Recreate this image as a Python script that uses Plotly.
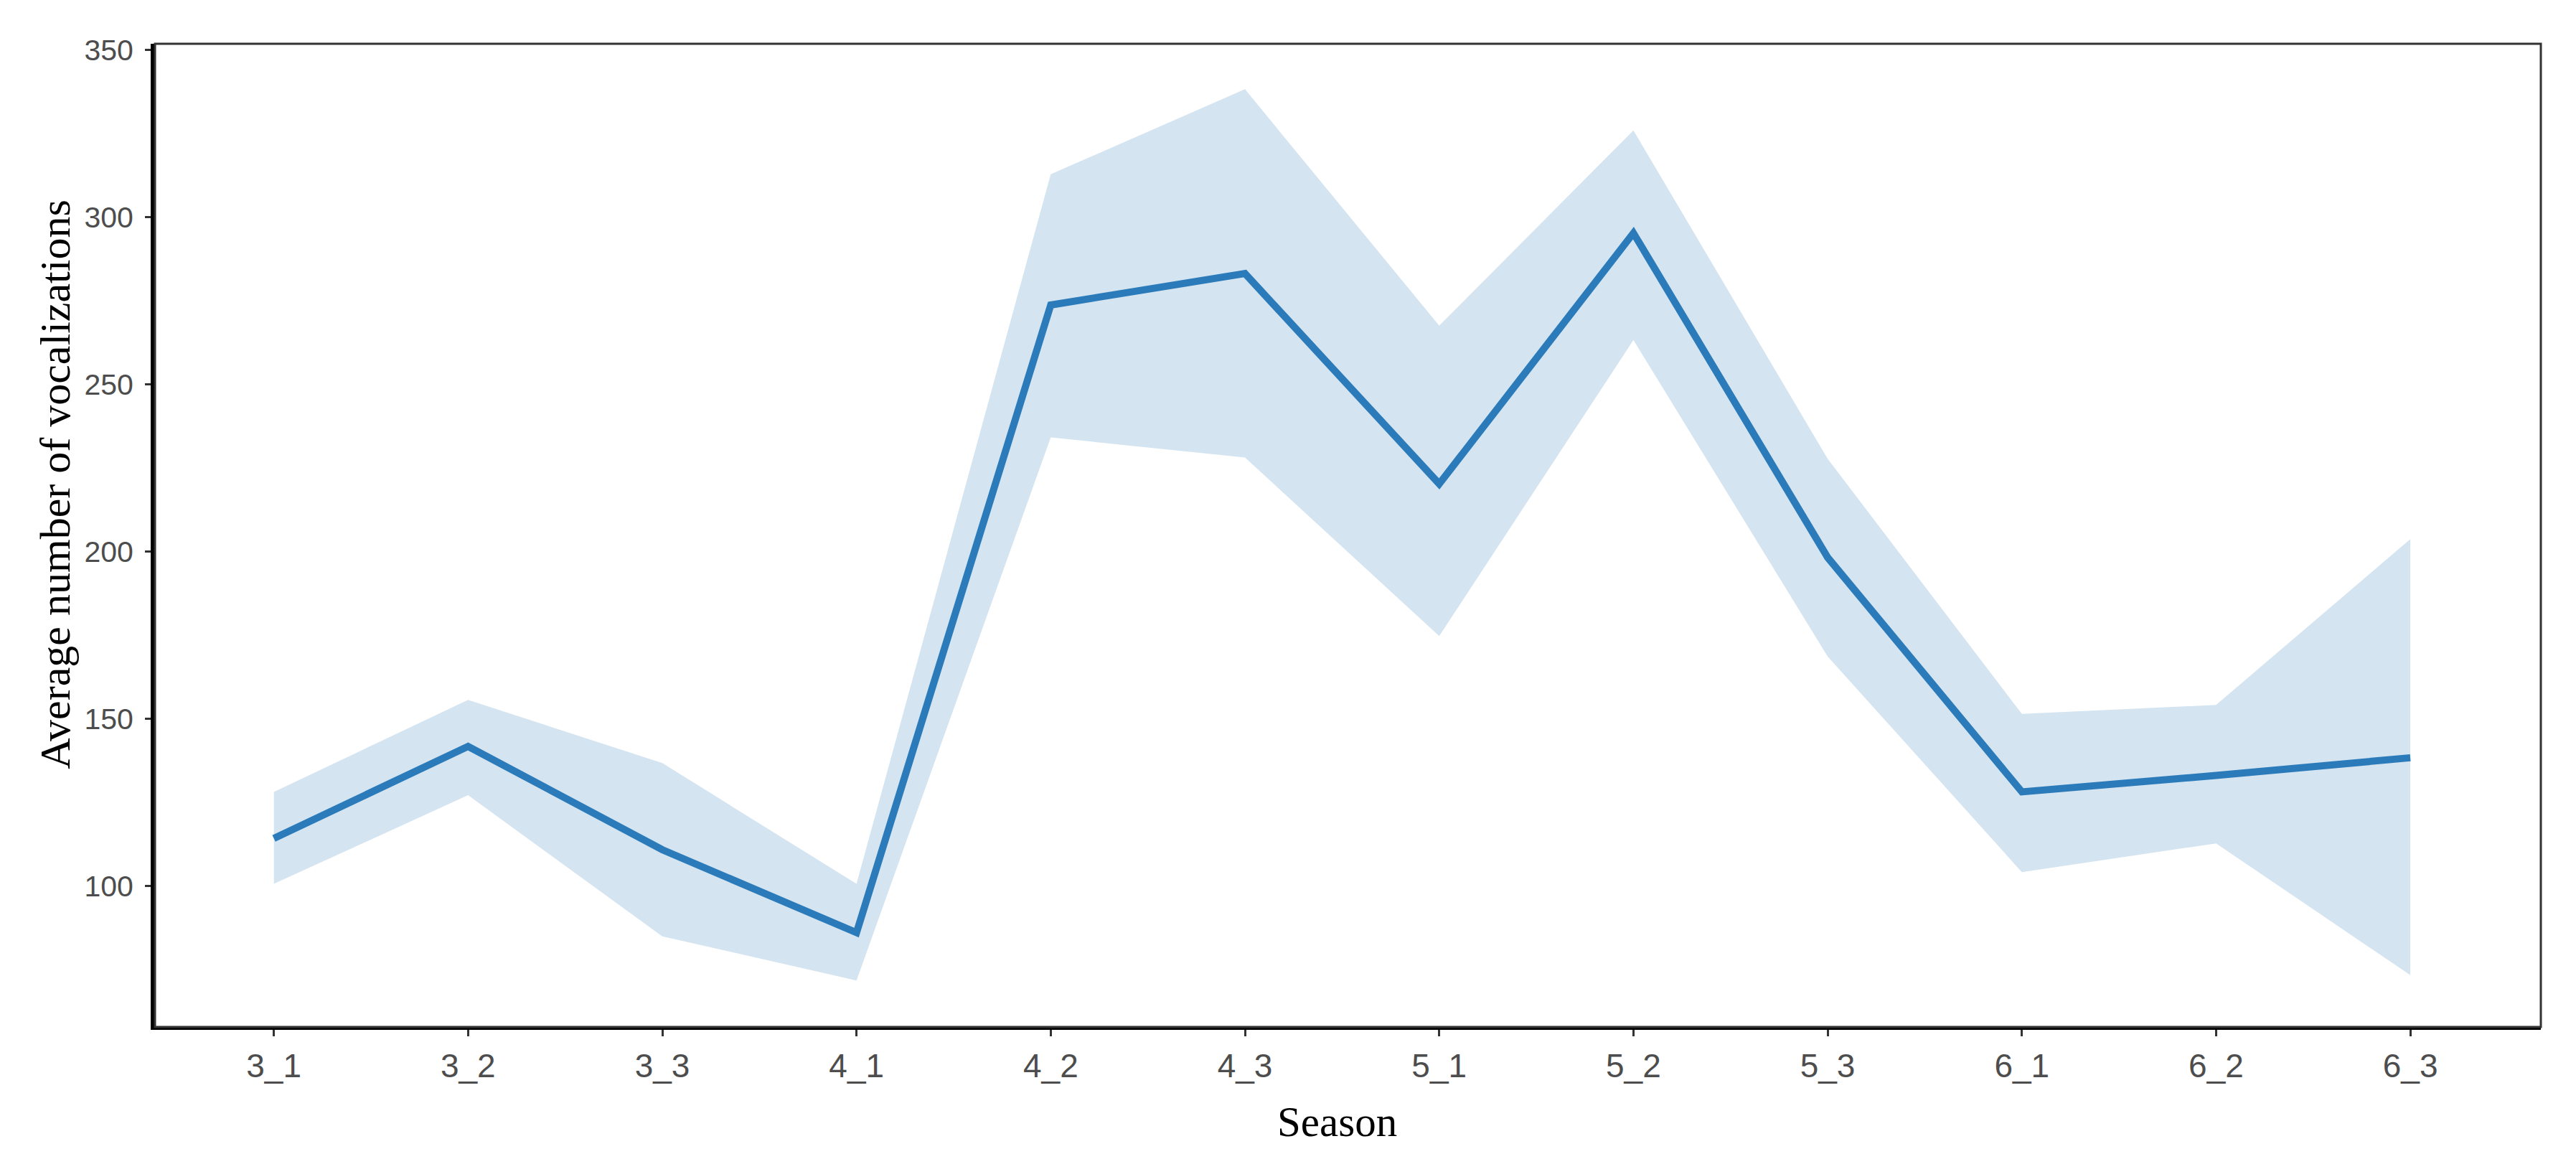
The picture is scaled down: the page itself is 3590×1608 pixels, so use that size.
import plotly.graph_objects as go

seasons = ["3_1", "3_2", "3_3", "4_1", "4_2", "4_3", "5_1", "5_2", "5_3", "6_1", "6_2", "6_3"]
mean_vals = [114.2, 141.7, 110.8, 86.0, 273.7, 283.1, 220.2, 295.2, 198.2, 128.1, 133.0, 138.3]
upper_vals = [128.1, 155.6, 136.7, 100.6, 312.8, 338.2, 267.5, 325.9, 227.7, 151.4, 154.1, 203.7]
lower_vals = [100.6, 127.1, 84.9, 71.7, 234.1, 228.1, 174.7, 263.2, 168.6, 104.1, 112.7, 73.3]
y_ticks = [100, 150, 200, 250, 300, 350]

line_color = "#2b7bba"
band_color = "rgb(212,228,240)"

fig = go.Figure()
fig.add_trace(go.Scatter(x=seasons, y=upper_vals, mode="lines", line=dict(width=0, color=band_color),
                         showlegend=False, hoverinfo="skip"))
fig.add_trace(go.Scatter(x=seasons, y=lower_vals, mode="lines", line=dict(width=0, color=band_color),
                         fill="tonexty", fillcolor=band_color, showlegend=False, hoverinfo="skip"))
fig.add_trace(go.Scatter(x=seasons, y=mean_vals, mode="lines", line=dict(width=10, color=line_color),
                         showlegend=False))

fig.update_layout(
    width=3590, height=1608,
    margin=dict(l=208, r=57, t=53, b=185),
    paper_bgcolor="white", plot_bgcolor="white",
    xaxis=dict(
        type="category", categoryorder="array", categoryarray=seasons,
        range=[-0.612, 11.672],
        showgrid=False, zeroline=False,
        showline=True, linecolor="black", linewidth=4,
        ticks="outside", ticklen=9, tickwidth=3, tickcolor="#333333",
        tickfont=dict(family="Liberation Sans, Arial", size=46, color="#4d4d4d"),
        ticklabelstandoff=2,
    ),
    yaxis=dict(
        range=[57.8, 351.8],
        tickvals=y_ticks,
        showgrid=False, zeroline=False,
        showline=True, linecolor="black", linewidth=6,
        ticks="outside", ticklen=8, tickwidth=3, tickcolor="#333333",
        tickfont=dict(family="Liberation Sans, Arial", size=41, color="#4d4d4d"),
        ticklabelstandoff=8,
    ),
    shapes=[dict(type="rect", xref="paper", yref="paper", x0=0, y0=0, x1=1, y1=1,
                 line=dict(color="#333333", width=3), fillcolor="rgba(0,0,0,0)", layer="above")],
    annotations=[
        dict(text="Season", xref="paper", yref="paper", x=0.4955, y=-0.0961,
             xanchor="center", yanchor="middle", showarrow=False,
             font=dict(family="Liberation Serif, Times New Roman", size=59, color="black")),
        dict(text="Average number of vocalizations", xref="paper", yref="paper", x=-0.0418, y=0.552,
             xanchor="center", yanchor="middle", textangle=-90, showarrow=False,
             font=dict(family="Liberation Serif, Times New Roman", size=60, color="black")),
    ],
)

fig.write_html("out.html")
